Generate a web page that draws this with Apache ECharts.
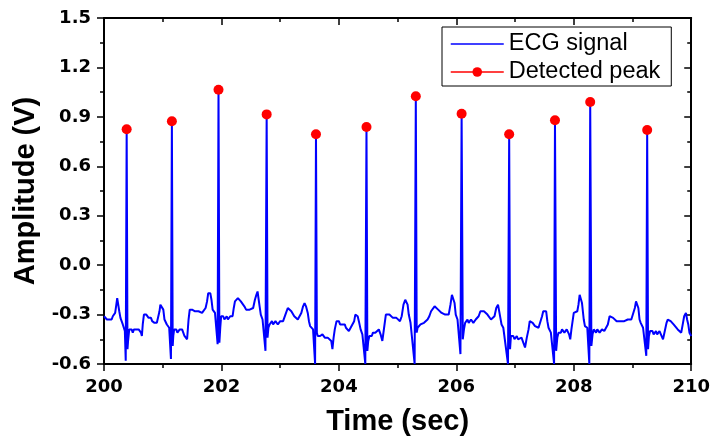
<!DOCTYPE html>
<html>
<head>
<meta charset="utf-8">
<script src="https://cdn.jsdelivr.net/npm/echarts@6/dist/echarts.min.js"></script>
<style>
  html, body { margin: 0; padding: 0; background: #fff; }
  #chart { width: 713px; height: 441px; }
</style>
</head>
<body>
<div id="chart"></div>
<script>
// ECG trace, [time (s), amplitude (V)]
var ecgSignal = [
  [200.00,-0.31],[200.02,-0.32],[200.03,-0.31],[200.05,-0.33],[200.07,-0.32],[200.09,-0.33],[200.11,-0.32],[200.13,-0.33],[200.15,-0.31],[200.17,-0.32],
  [200.19,-0.29],[200.21,-0.24],[200.225,-0.20],[200.24,-0.21],[200.26,-0.28],[200.28,-0.32],[200.30,-0.34],[200.32,-0.36],[200.34,-0.37],[200.355,-0.40],
  [200.370,-0.58],[200.386,0.825],[200.400,-0.51],[200.41,-0.46],[200.43,-0.39],[200.45,-0.40],[200.47,-0.39],[200.49,-0.41],[200.51,-0.39],[200.53,-0.40],
  [200.55,-0.39],[200.57,-0.38],[200.59,-0.39],[200.61,-0.38],[200.63,-0.41],[200.645,-0.43],[200.66,-0.36],[200.68,-0.30],[200.70,-0.29],[200.72,-0.30],
  [200.74,-0.31],[200.76,-0.32],[200.78,-0.33],[200.80,-0.32],[200.82,-0.34],[200.84,-0.33],[200.86,-0.35],[200.88,-0.34],[200.90,-0.35],[200.92,-0.34],
  [200.945,-0.28],[200.96,-0.24],[200.975,-0.23],[200.99,-0.25],[201.01,-0.27],[201.03,-0.33],[201.05,-0.34],[201.07,-0.36],[201.09,-0.36],[201.11,-0.38],
  [201.140,-0.57],[201.156,0.873],[201.170,-0.49],[201.18,-0.43],[201.195,-0.39],[201.21,-0.40],[201.23,-0.39],[201.25,-0.41],[201.27,-0.40],[201.29,-0.39],
  [201.31,-0.40],[201.33,-0.39],[201.35,-0.41],[201.37,-0.43],[201.39,-0.44],[201.415,-0.45],[201.44,-0.33],[201.46,-0.27],[201.48,-0.28],[201.50,-0.27],
  [201.52,-0.28],[201.55,-0.28],[201.58,-0.29],[201.61,-0.28],[201.64,-0.29],[201.67,-0.29],[201.70,-0.28],[201.73,-0.26],[201.755,-0.22],[201.775,-0.17],
  [201.79,-0.16],[201.81,-0.17],[201.83,-0.21],[201.85,-0.27],[201.87,-0.28],[201.89,-0.29],[201.91,-0.30],[201.935,-0.48],[201.950,1.065],[201.965,-0.47],
  [201.98,-0.38],[201.995,-0.31],[202.01,-0.32],[202.03,-0.31],[202.05,-0.33],[202.07,-0.32],[202.09,-0.31],[202.11,-0.33],[202.13,-0.32],[202.15,-0.31],
  [202.17,-0.32],[202.19,-0.31],[202.21,-0.26],[202.23,-0.22],[202.25,-0.21],[202.28,-0.20],[202.30,-0.21],[202.33,-0.22],[202.36,-0.23],[202.39,-0.25],
  [202.42,-0.27],[202.45,-0.28],[202.48,-0.27],[202.51,-0.28],[202.54,-0.26],[202.57,-0.21],[202.595,-0.18],[202.615,-0.16],[202.63,-0.17],[202.65,-0.25],
  [202.67,-0.30],[202.70,-0.33],[202.72,-0.34],[202.750,-0.52],[202.770,0.915],[202.785,-0.44],[202.80,-0.38],[202.82,-0.36],[202.84,-0.35],[202.86,-0.34],
  [202.88,-0.36],[202.90,-0.35],[202.92,-0.34],[202.94,-0.35],[202.96,-0.36],[202.98,-0.35],[203.00,-0.34],[203.02,-0.35],[203.05,-0.34],[203.07,-0.33],
  [203.10,-0.29],[203.13,-0.26],[203.16,-0.27],[203.19,-0.28],[203.21,-0.29],[203.24,-0.31],[203.27,-0.32],[203.30,-0.33],[203.33,-0.32],[203.36,-0.29],
  [203.39,-0.25],[203.415,-0.23],[203.44,-0.25],[203.47,-0.29],[203.49,-0.34],[203.51,-0.37],[203.53,-0.38],[203.56,-0.39],[203.595,-0.60],[203.610,0.794],
  [203.625,-0.41],[203.64,-0.43],[203.66,-0.42],[203.68,-0.43],[203.70,-0.44],[203.72,-0.42],[203.74,-0.43],[203.76,-0.44],[203.78,-0.43],[203.81,-0.44],
  [203.84,-0.45],[203.87,-0.46],[203.89,-0.51],[203.91,-0.44],[203.93,-0.39],[203.96,-0.34],[203.98,-0.35],[204.00,-0.34],[204.02,-0.36],[204.04,-0.35],
  [204.06,-0.36],[204.08,-0.37],[204.10,-0.36],[204.12,-0.38],[204.14,-0.39],[204.17,-0.40],[204.20,-0.38],[204.23,-0.36],[204.26,-0.34],[204.28,-0.30],
  [204.30,-0.29],[204.32,-0.31],[204.34,-0.34],[204.37,-0.39],[204.40,-0.42],[204.450,-0.60],[204.470,0.838],[204.485,-0.52],[204.50,-0.46],[204.52,-0.43],
  [204.54,-0.42],[204.56,-0.43],[204.58,-0.41],[204.60,-0.42],[204.62,-0.41],[204.65,-0.40],[204.68,-0.39],[204.71,-0.42],[204.74,-0.46],[204.77,-0.38],
  [204.80,-0.30],[204.83,-0.29],[204.86,-0.30],[204.89,-0.31],[204.92,-0.32],[204.95,-0.33],[204.98,-0.32],[205.01,-0.33],[205.04,-0.34],[205.07,-0.31],
  [205.10,-0.24],[205.13,-0.21],[205.15,-0.20],[205.17,-0.24],[205.19,-0.30],[205.22,-0.35],[205.25,-0.36],[205.290,-0.60],[205.310,1.025],[205.325,-0.41],
  [205.34,-0.38],[205.36,-0.38],[205.39,-0.36],[205.42,-0.35],[205.45,-0.35],[205.48,-0.34],[205.51,-0.33],[205.54,-0.31],[205.57,-0.28],[205.60,-0.27],
  [205.63,-0.25],[205.66,-0.26],[205.69,-0.27],[205.72,-0.28],[205.75,-0.29],[205.78,-0.28],[205.81,-0.30],[205.84,-0.29],[205.87,-0.30],[205.90,-0.24],
  [205.925,-0.18],[205.95,-0.17],[205.97,-0.23],[205.99,-0.30],[206.02,-0.33],[206.04,-0.34],[206.070,-0.54],[206.090,0.919],[206.110,-0.45],[206.13,-0.39],
  [206.15,-0.35],[206.17,-0.34],[206.19,-0.33],[206.21,-0.35],[206.23,-0.34],[206.25,-0.33],[206.27,-0.34],[206.29,-0.35],[206.31,-0.34],[206.33,-0.33],
  [206.35,-0.34],[206.38,-0.31],[206.41,-0.28],[206.44,-0.27],[206.47,-0.28],[206.50,-0.29],[206.53,-0.30],[206.56,-0.31],[206.59,-0.33],[206.62,-0.34],
  [206.65,-0.31],[206.68,-0.26],[206.71,-0.24],[206.73,-0.25],[206.75,-0.32],[206.77,-0.36],[206.80,-0.38],[206.83,-0.39],[206.880,-0.60],[206.900,0.794],
  [206.915,-0.51],[206.93,-0.43],[206.95,-0.44],[206.97,-0.43],[206.99,-0.45],[207.01,-0.44],[207.03,-0.43],[207.05,-0.45],[207.08,-0.44],[207.11,-0.44],
  [207.14,-0.45],[207.17,-0.50],[207.20,-0.44],[207.23,-0.39],[207.25,-0.34],[207.27,-0.33],[207.30,-0.35],[207.34,-0.37],[207.37,-0.38],[207.40,-0.38],
  [207.43,-0.39],[207.46,-0.31],[207.48,-0.28],[207.51,-0.27],[207.53,-0.28],[207.55,-0.34],[207.57,-0.38],[207.61,-0.41],[207.665,-0.60],[207.680,0.879],
  [207.700,-0.52],[207.72,-0.44],[207.74,-0.41],[207.76,-0.40],[207.78,-0.41],[207.80,-0.39],[207.82,-0.40],[207.84,-0.41],[207.86,-0.40],[207.88,-0.39],
  [207.90,-0.40],[207.92,-0.42],[207.94,-0.45],[207.96,-0.39],[207.98,-0.34],[208.00,-0.29],[208.03,-0.28],[208.06,-0.28],[208.08,-0.24],[208.10,-0.18],
  [208.12,-0.19],[208.14,-0.23],[208.17,-0.33],[208.19,-0.37],[208.23,-0.38],[208.265,-0.60],[208.280,0.990],[208.300,-0.49],[208.32,-0.42],[208.34,-0.39],
  [208.36,-0.40],[208.38,-0.41],[208.40,-0.39],[208.42,-0.40],[208.44,-0.41],[208.46,-0.40],[208.48,-0.39],[208.50,-0.40],[208.52,-0.40],[208.55,-0.41],
  [208.58,-0.36],[208.61,-0.31],[208.64,-0.30],[208.67,-0.32],[208.70,-0.33],[208.73,-0.34],[208.76,-0.33],[208.79,-0.34],[208.82,-0.33],[208.86,-0.34],
  [208.89,-0.33],[208.92,-0.33],[208.95,-0.32],[208.98,-0.33],[209.01,-0.32],[209.04,-0.26],[209.06,-0.22],[209.08,-0.23],[209.10,-0.26],[209.12,-0.33],
  [209.14,-0.35],[209.18,-0.38],[209.235,-0.55],[209.250,0.820],[209.265,-0.51],[209.28,-0.43],[209.30,-0.40],[209.32,-0.41],[209.34,-0.40],[209.36,-0.42],
  [209.38,-0.41],[209.40,-0.40],[209.42,-0.42],[209.44,-0.41],[209.46,-0.40],[209.49,-0.41],[209.52,-0.45],[209.55,-0.40],[209.58,-0.35],[209.60,-0.33],
  [209.62,-0.32],[209.65,-0.34],[209.68,-0.35],[209.70,-0.36],[209.73,-0.37],[209.77,-0.39],[209.80,-0.40],[209.83,-0.41],[209.86,-0.35],[209.88,-0.31],
  [209.91,-0.29],[209.93,-0.33],[209.95,-0.36],[209.97,-0.41],[210.00,-0.43]
];

// detected R peaks
var peakTime = [200.386, 201.156, 201.950, 202.770, 203.610, 204.470, 205.310, 206.090, 206.900, 207.680, 208.280, 209.250];
var peakAmp  = [0.825, 0.873, 1.065, 0.915, 0.794, 0.838, 1.025, 0.919, 0.794, 0.879, 0.990, 0.820];

var xTicks = { min: 200, max: 210, step: 2 };
var yTicks = { min: -0.6, max: 1.5, step: 0.3 };

var peakData = peakTime.map(function (t, i) { return [t, peakAmp[i]]; });

var tickFont = { fontFamily: 'DejaVu Sans', fontWeight: 'bold', fontSize: 18, color: '#000' };
var titleFont = { fontFamily: 'Liberation Sans', fontWeight: 'bold', fontSize: 29, color: '#000' };
var axisLine = { show: true, onZero: false, lineStyle: { color: '#000', width: 2 } };

var chart = echarts.init(document.getElementById('chart'), null, { renderer: 'canvas' });

chart.setOption({
  animation: false,
  backgroundColor: '#fff',
  grid: { left: 104, right: 21, top: 18, bottom: 77 },
  legend: {
    left: 442,
    top: 27,
    orient: 'vertical',
    borderColor: '#000',
    borderWidth: 1,
    borderRadius: 0,
    padding: [5, 11, 2, 8],
    itemGap: 4,
    itemWidth: 53,
    itemHeight: 12,
    itemTextGap: 7,
    textStyle: { fontFamily: 'Liberation Sans', fontSize: 23.5, color: '#000', lineHeight: 24 },
    data: [
      // line only, no marker for the trace
      { name: 'ECG signal', itemStyle: { opacity: 0 }, lineStyle: { color: '#0000ff', width: 1.5, opacity: 1 } },
      { name: 'Detected peak', lineStyle: { color: '#ff0000', width: 1.5, opacity: 1 } }
    ]
  },
  xAxis: [{
    type: 'value',
    min: xTicks.min, max: xTicks.max, interval: xTicks.step,
    name: 'Time (sec)',
    nameLocation: 'middle',
    nameGap: 43,
    nameTextStyle: titleFont,
    axisLine: axisLine,
    axisTick: { show: true, inside: false, length: 7, lineStyle: { color: '#000', width: 1.5 } },
    minorTick: { show: true, splitNumber: 2, length: 4, lineStyle: { color: '#000', width: 1.5 } },
    axisLabel: Object.assign({ margin: 14 }, tickFont),
    splitLine: { show: false }
  }, {
    // mirrored top edge
    type: 'value', position: 'top',
    min: xTicks.min, max: xTicks.max, interval: xTicks.step,
    axisLine: axisLine,
    axisTick: { show: true, inside: true, length: 7, lineStyle: { color: '#000', width: 1.5 } },
    minorTick: { show: true, splitNumber: 2, length: 4, lineStyle: { color: '#000', width: 1.5 } },
    axisLabel: { show: false },
    splitLine: { show: false }
  }],
  yAxis: [{
    type: 'value',
    min: yTicks.min, max: yTicks.max, interval: yTicks.step,
    name: 'Amplitude (V)',
    nameLocation: 'middle',
    nameGap: 61,
    nameTextStyle: titleFont,
    axisLine: axisLine,
    axisTick: { show: true, inside: false, length: 7, lineStyle: { color: '#000', width: 1.5 } },
    minorTick: { show: true, splitNumber: 2, length: 4, lineStyle: { color: '#000', width: 1.5 } },
    axisLabel: Object.assign({ margin: 13, formatter: function (v) { return v.toFixed(1); } }, tickFont),
    splitLine: { show: false }
  }, {
    // mirrored right edge
    type: 'value', position: 'right',
    min: yTicks.min, max: yTicks.max, interval: yTicks.step,
    axisLine: axisLine,
    axisTick: { show: true, inside: true, length: 7, lineStyle: { color: '#000', width: 1.5 } },
    minorTick: { show: true, splitNumber: 2, length: 4, lineStyle: { color: '#000', width: 1.5 } },
    axisLabel: { show: false },
    splitLine: { show: false }
  }],
  series: [{
    name: 'ECG signal',
    type: 'line',
    data: ecgSignal,
    showSymbol: false,
    symbol: 'none',
    z: 2,
    itemStyle: { color: '#0000ff' },
    lineStyle: { color: '#0000ff', width: 2 }
  }, {
    name: 'Detected peak',
    type: 'line',
    data: peakData,
    symbol: 'circle',
    symbolSize: 10,
    z: 3,
    itemStyle: { color: '#ff0000' },
    lineStyle: { color: '#ff0000', opacity: 0 }
  }]
});
</script>
</body>
</html>
